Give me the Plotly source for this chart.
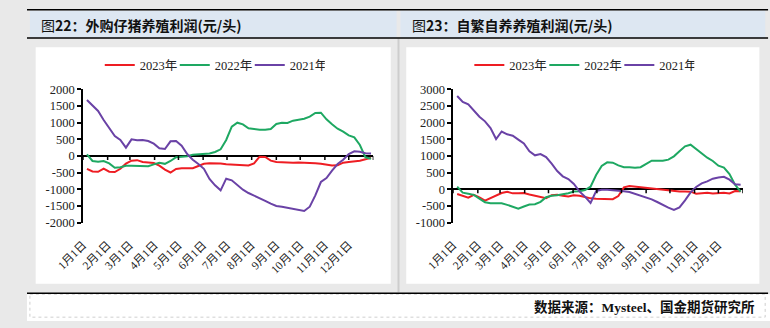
import pandas as pd
import plotly.graph_objects as go

W, H = 770, 328

# Weekly observation dates placed on a common calendar year
week_dates = pd.date_range("2022-01-06", periods=52, freq="7D")
month_ticks = pd.date_range("2022-01-01", periods=12, freq="MS")
month_labels = [f"{m}月1日" for m in range(1, 13)]
series_names = ["2023年", "2022年", "2021年"]
series_colors = ["#ee1d23", "#1ea862", "#6a42a6"]

# 外购仔猪养殖利润 (元/头)
purchased_2023 = [-384, -465, -475, -380, -470, -480, -384, -230, -140, -125, -180, -195, -210,
                  -290, -410, -495, -390, -370, -365, -365, -300, -235, -215, -211, -225, -250,
                  -262, -272, -280, -285, -220, -20, -30, -140, -180, -195, -210, -205, -195,
                  -195, -208, -215, -235, -270, -288, -280, -200, -180, -165, -145, -100, -50]
purchased_2022 = [48, -150, -170, -150, -220, -350, -335, -290, -290, -290, -295, -305, -250,
                  -200, -235, -150, -35, -25, -5, 40, 60, 67, 77, 120, 200, 480,
                  880, 1000, 950, 830, 800, 790, 787, 810, 960, 1000, 990, 1060, 1090,
                  1120, 1180, 1290, 1300, 1100, 950, 820, 730, 620, 560, 330, -40, -80]
purchased_2021 = [1680, 1510, 1350, 1080, 830, 600, 480, 250, 500, 470, 480, 450, 370,
                  230, 210, 440, 450, 310, 60, -110, -240, -385, -690, -880, -1030, -680,
                  -730, -860, -1010, -1110, -1180, -1260, -1343, -1430, -1500, -1525, -1560, -1600, -1630,
                  -1650, -1520, -1180, -780, -660, -440, -240, -110, 60, 140, 130, 85, 75]

# 自繁自养养殖利润 (元/头)
selfbred_2023 = [-140, -200, -250, -165, -240, -340, -270, -190, -110, -70, -120, -120, -110,
                 -155, -190, -235, -265, -175, -165, -190, -215, -180, -190, -230, -270, -285,
                 -295, -296, -296, -200, 60, 100, 80, 55, 40, 30, 10, -10, -35,
                 -55, -66, -66, -70, -130, -115, -105, -125, -115, -105, -125, -50, -60]
selfbred_2022 = [80, -100, -130, -165, -280, -385, -415, -420, -420, -465, -520, -580, -515,
                 -455, -448, -375, -235, -190, -180, -155, -115, -66, -57, -20, 80, 430,
                 700, 810, 800, 720, 664, 662, 645, 665, 770, 860, 860, 855, 890,
                 990, 1140, 1290, 1340, 1210, 1060, 950, 850, 710, 650, 460, 140, -70]
selfbred_2021 = [2800, 2620, 2550, 2370, 2180, 2040, 1840, 1510, 1735, 1650, 1610, 1490, 1375,
                 1140, 1020, 1060, 970, 770, 550, 390, 310, 160, -60, -220, -410, -50,
                 -15, -10, -20, -35, -55, -80, -130, -180, -240, -300, -380, -470, -550,
                 -620, -540, -330, -90, 70, 180, 240, 320, 355, 375, 290, 150, 140]

left_ticks = [-2000, -1500, -1000, -500, 0, 500, 1000, 1500, 2000]
right_ticks = [-1000, -500, 0, 500, 1000, 1500, 2000, 2500, 3000]

panels = [
    dict(title="图<b>22：外购仔猪养殖利润(元/头)</b>",
         series=[purchased_2023, purchased_2022, purchased_2021], yticks=left_ticks,
         plot_x=(58, 359), legend_cx=192, title_x=12, bg_x=(9, 377), bar_x=(3, 383)),
    dict(title="图<b>23：自繁自养养殖利润(元/头)</b>",
         series=[selfbred_2023, selfbred_2022, selfbred_2021], yticks=right_ticks,
         plot_x=(441.7, 742), legend_cx=575, title_x=397, bg_x=(393, 759), bar_x=(387, 765)),
]
PLOT_TOP, PLOT_BOTTOM = 86, 225.3

SERIF = "Liberation Serif, 'Noto Sans CJK SC', serif"
CJK = "'Noto Sans CJK SC', sans-serif"


def px_x(x):
    return x / W


def px_y(y):
    return 1 - y / H


fig = go.Figure()
shapes = []
annotations = []

# page frame: title bars, rules, chart panels, footer
shapes.append(dict(type="rect", xref="paper", yref="paper", layer="below",
                   x0=px_x(0), x1=px_x(770), y0=px_y(300), y1=px_y(328),
                   fillcolor="white", line_width=0))
shapes.append(dict(type="rect", xref="paper", yref="paper", layer="below",
                   x0=px_x(3), x1=px_x(765), y0=px_y(300), y1=px_y(324),
                   fillcolor="white", line=dict(color="#cfcfcf", width=1, dash="dot")))
shapes.append(dict(type="line", xref="paper", yref="paper", layer="below",
                   x0=px_x(385), x1=px_x(385), y0=px_y(33), y1=px_y(298),
                   line=dict(color="#cdcdcd", width=2)))

for i, p in enumerate(panels):
    n = "" if i == 0 else str(i + 1)
    xa, ya = "x" + n, "y" + n
    lg = "legend" if i == 0 else "legend2"
    shapes.append(dict(type="rect", xref="paper", yref="paper", layer="below",
                       x0=px_x(p["bar_x"][0]), x1=px_x(p["bar_x"][1]), y0=px_y(32), y1=px_y(4),
                       fillcolor="#dde7f2", line_width=0))
    shapes.append(dict(type="rect", xref="paper", yref="paper", layer="below",
                       x0=px_x(p["bg_x"][0]), x1=px_x(p["bg_x"][1]), y0=px_y(289), y1=px_y(42),
                       fillcolor="white", line_width=0))
    annotations.append(dict(text=p["title"], xref="paper", yref="paper",
                            x=px_x(p["title_x"]), y=px_y(18.5), xanchor="left", yanchor="middle",
                            showarrow=False, font=dict(family=CJK, size=14, color="#111")))

    for name, color, vals in zip(series_names, series_colors, p["series"]):
        fig.add_trace(go.Scatter(x=week_dates, y=vals, name=name, mode="lines",
                                 line=dict(color=color, width=2), xaxis=xa, yaxis=ya,
                                 legend=lg, hoverinfo="skip"))

    # month tick marks hanging below the zero line
    for d in list(month_ticks) + [pd.Timestamp("2023-01-01")]:
        shapes.append(dict(type="line", xref=xa, yref=ya, x0=d, x1=d,
                           ysizemode="pixel", yanchor=0, y0=0, y1=-4,
                           line=dict(color="black", width=1.5)))

    ax_kw = dict(domain=[px_x(p["plot_x"][0]), px_x(p["plot_x"][1])],
                 range=["2022-01-01", "2023-01-01"], anchor=ya,
                 tickvals=list(month_ticks), ticktext=month_labels, tickangle=-45,
                 ticks="outside", ticklen=10, tickcolor="rgba(0,0,0,0)",
                 showgrid=False, showline=False, zeroline=False,
                 tickfont=dict(family=SERIF, size=11.5, color="#222"))
    ay_kw = dict(domain=[px_y(PLOT_BOTTOM), px_y(PLOT_TOP)], anchor=xa,
                 range=[p["yticks"][0], p["yticks"][-1]],
                 tickvals=p["yticks"], ticktext=[str(v) for v in p["yticks"]],
                 ticks="outside", ticklen=4, tickwidth=1.5, tickcolor="black",
                 showline=True, linecolor="black", linewidth=1.5,
                 zeroline=True, zerolinecolor="black", zerolinewidth=1.5,
                 showgrid=False, tickfont=dict(family=SERIF, size=12.5, color="#222"))
    fig.update_layout({("xaxis" + n): ax_kw, ("yaxis" + n): ay_kw})
    fig.update_layout({lg: dict(orientation="h", x=px_x(p["legend_cx"]), xanchor="center",
                                y=px_y(61), yanchor="middle", bgcolor="rgba(0,0,0,0)",
                                font=dict(family=SERIF, size=12.5, color="#222"),
                                itemwidth=30, entrywidth=30, tracegroupgap=0)})

# horizontal rules
for y in (3, 32.5, 299):
    shapes.append(dict(type="line", xref="paper", yref="paper",
                       x0=px_x(0), x1=px_x(768), y0=px_y(y), y1=px_y(y),
                       line=dict(color="black", width=1.5)))

annotations.append(dict(text="<b>数据来源：Mysteel、国金期货研究所</b>", xref="paper", yref="paper",
                        x=px_x(757), y=px_y(313), xanchor="right", yanchor="middle",
                        showarrow=False, font=dict(family=SERIF, size=13.5, color="#111")))

fig.update_layout(width=W, height=H, autosize=False,
                  margin=dict(l=0, r=0, t=0, b=0, pad=0),
                  paper_bgcolor="#e9e9e9", plot_bgcolor="rgba(0,0,0,0)",
                  shapes=shapes, annotations=annotations, showlegend=True)

fig.write_html("out.html", config={"displayModeBar": False},
               post_script="document.body.style.margin='0';")
